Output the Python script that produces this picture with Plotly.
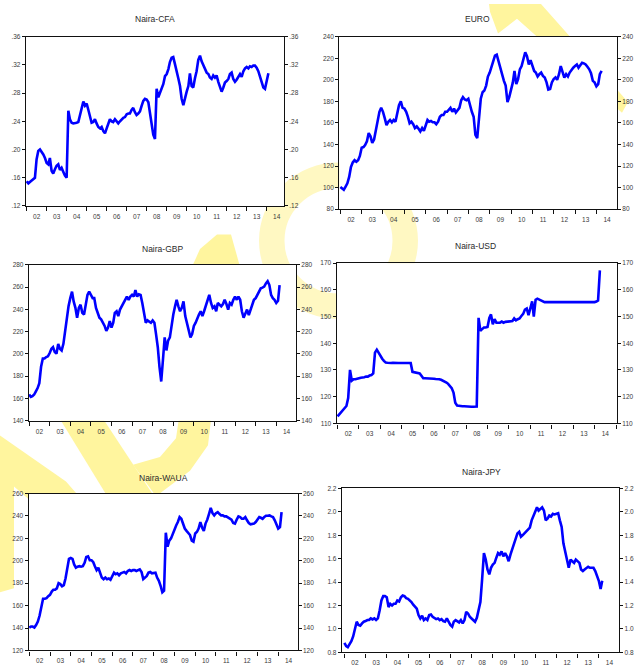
import pandas as pd
import plotly.graph_objects as go

W, H = 636, 666

# Monthly exchange-rate observations, starting January 2002
naira_cfa = [
    0.155, 0.152, 0.154, 0.156, 0.157, 0.160, 0.186, 0.198, 0.200, 0.197,
    0.193, 0.188, 0.181, 0.179, 0.188, 0.170, 0.166, 0.172, 0.177, 0.179,
    0.171, 0.174, 0.167, 0.163, 0.160, 0.255, 0.243, 0.238, 0.237, 0.237,
    0.238, 0.239, 0.249, 0.262, 0.268, 0.262, 0.265, 0.256, 0.246, 0.238,
    0.239, 0.243, 0.237, 0.232, 0.230, 0.232, 0.226, 0.223, 0.230, 0.239,
    0.243, 0.240, 0.239, 0.243, 0.240, 0.237, 0.240, 0.243, 0.245, 0.246,
    0.250, 0.251, 0.251, 0.256, 0.259, 0.253, 0.249, 0.251, 0.254, 0.262,
    0.269, 0.272, 0.271, 0.267, 0.253, 0.242, 0.221, 0.215, 0.286, 0.274,
    0.281, 0.285, 0.293, 0.304, 0.307, 0.314, 0.324, 0.330, 0.331, 0.321,
    0.309, 0.301, 0.290, 0.272, 0.263, 0.274, 0.282, 0.290, 0.308, 0.290,
    0.288, 0.301, 0.311, 0.327, 0.333, 0.325, 0.319, 0.314, 0.309, 0.307,
    0.302, 0.300, 0.305, 0.302, 0.305, 0.296, 0.287, 0.282, 0.288, 0.295,
    0.297, 0.300, 0.307, 0.309, 0.300, 0.296, 0.299, 0.304, 0.307, 0.303,
    0.311, 0.315, 0.317, 0.315, 0.318, 0.317, 0.319, 0.319, 0.316, 0.311,
    0.303, 0.294, 0.288, 0.286, 0.295, 0.308,
]

euro = [
    100.6, 99.0, 98.0, 101.0, 104.0, 110.0, 119.0, 123.4, 125.5, 124.0,
    125.5, 129.4, 137.0, 137.6, 139.4, 143.0, 150.6, 147.6, 141.5, 144.6,
    153.6, 161.2, 170.3, 174.0, 170.3, 164.2, 158.0, 161.0, 162.7, 160.6,
    162.7, 161.0, 168.0, 176.4, 180.0, 174.0, 173.3, 170.3, 165.8, 159.7,
    161.2, 158.8, 155.2, 156.7, 154.6, 152.1, 155.2, 152.7, 157.6, 162.7,
    161.2, 161.8, 160.6, 160.6, 158.8, 161.2, 165.8, 167.3, 167.3, 170.3,
    170.3, 171.8, 174.0, 170.3, 173.3, 169.7, 171.8, 174.0, 181.0, 184.0,
    181.8, 181.0, 182.4, 174.9, 170.3, 165.8, 149.0, 146.0, 161.2, 182.4,
    188.5, 190.0, 194.6, 203.0, 206.7, 212.7, 218.8, 222.4, 223.3, 217.3,
    211.2, 203.6, 199.0, 194.6, 179.4, 184.0, 191.5, 197.6, 208.2, 196.1,
    200.6, 209.7, 212.7, 218.8, 225.5, 221.8, 214.2, 218.2, 212.7, 208.2,
    206.7, 203.0, 205.2, 206.7, 203.6, 202.1, 197.6, 190.9, 191.5, 197.6,
    200.6, 202.1, 200.0, 205.2, 212.7, 206.7, 202.1, 205.2, 203.0, 206.7,
    209.7, 211.2, 212.7, 214.2, 211.2, 214.2, 215.8, 215.2, 214.2, 212.1,
    209.7, 206.1, 199.0, 197.6, 194.0, 196.0, 205.2, 208.2,
]

naira_gbp = [
    163.5, 161.4, 162.0, 163.5, 166.4, 169.3, 173.7, 188.4, 195.8, 195.8,
    197.2, 197.8, 200.8, 204.6, 206.0, 201.6, 200.2, 209.0, 204.6, 203.1,
    209.0, 220.7, 232.5, 242.7, 250.1, 255.9, 247.1, 241.3, 232.5, 241.3,
    244.2, 236.9, 235.4, 242.7, 253.0, 255.9, 253.0, 250.1, 250.1, 241.3,
    236.9, 232.5, 231.0, 228.0, 225.1, 220.7, 223.6, 229.5, 223.6, 228.0,
    236.9, 238.3, 233.9, 239.8, 242.7, 245.7, 248.6, 251.5, 248.6, 251.5,
    253.0, 251.5, 257.4, 251.5, 253.6, 253.0, 245.7, 235.4, 228.0, 230.1,
    228.9, 228.0, 230.1, 228.0, 217.8, 206.0, 188.4, 175.2, 194.3, 214.8,
    203.1, 211.9, 214.8, 226.6, 235.4, 242.7, 248.6, 242.7, 238.3, 241.3,
    247.1, 233.9, 226.6, 222.2, 214.8, 217.8, 225.1, 228.0, 232.5, 235.4,
    238.3, 233.9, 238.3, 242.7, 248.6, 253.0, 245.7, 241.3, 242.7, 238.3,
    245.7, 244.2, 242.7, 244.8, 248.6, 244.8, 239.8, 245.7, 244.2, 248.6,
    251.5, 248.6, 251.5, 248.6, 238.3, 232.5, 235.4, 239.8, 234.8, 239.8,
    242.7, 248.6, 250.1, 253.0, 255.9, 258.9, 259.5, 260.4, 263.3, 265.3,
    261.8, 253.0, 250.1, 248.6, 245.7, 247.7, 261.8,
]

naira_usd = [
    112.6, 113.4, 114.0, 115.0, 115.9, 116.5, 119.5, 130.0, 126.0, 126.5,
    126.5, 126.8, 126.9, 127.1, 127.1, 127.3, 127.5, 127.5, 127.9, 128.1,
    128.7, 136.5, 137.6, 136.3, 135.1, 134.2, 133.4, 132.8, 132.7, 132.6,
    132.6, 132.7, 132.6, 132.5, 132.6, 132.6, 132.6, 132.5, 132.6, 132.6,
    132.6, 132.6, 129.3, 129.1, 129.0, 128.7, 128.7, 127.8, 126.9, 126.9,
    126.9, 126.8, 126.7, 126.7, 126.7, 126.6, 126.6, 126.5, 126.3, 126.0,
    125.7, 125.3, 124.8, 124.1, 123.2, 121.5, 117.7, 116.7, 116.5, 116.4,
    116.4, 116.4, 116.3, 116.3, 116.3, 116.2, 116.2, 116.2, 116.3, 149.5,
    144.7, 145.3, 145.9, 145.9, 146.1, 149.5, 150.8, 147.1, 149.0, 147.7,
    147.7, 147.7, 148.1, 147.7, 148.0, 148.1, 148.1, 148.1, 148.3, 149.3,
    148.6, 149.0, 149.3, 150.2, 151.0, 152.6, 153.0, 150.5, 153.2, 155.7,
    150.0, 156.3, 156.7, 156.3, 155.9, 155.7, 155.4, 155.4, 155.4, 155.4,
    155.4, 155.3, 155.4, 155.4, 155.4, 155.4, 155.4, 155.3, 155.4, 155.4,
    155.4, 155.4, 155.3, 155.4, 155.4, 155.5, 155.4, 155.4, 155.4, 155.4,
    155.4, 155.4, 155.4, 155.4, 155.4, 155.6, 156.0, 167.3,
]

naira_waua = [
    140.4, 141.3, 141.3, 140.4, 142.7, 145.7, 150.9, 157.3, 166.1, 166.1,
    166.7, 168.4, 169.6, 172.5, 174.2, 174.2, 175.4, 180.1, 179.2, 177.2,
    178.3, 184.2, 192.3, 201.7, 202.5, 201.7, 196.7, 193.8, 194.7, 195.2,
    194.7, 195.2, 198.2, 203.4, 204.0, 200.5, 200.5, 198.7, 195.2, 191.7,
    193.8, 189.4, 185.0, 183.6, 185.0, 183.6, 184.2, 183.0, 186.5, 189.4,
    188.0, 188.8, 187.1, 188.8, 189.4, 190.0, 188.8, 190.9, 191.7, 190.9,
    191.7, 191.7, 190.9, 191.7, 192.3, 190.0, 183.6, 185.0, 186.5, 189.4,
    190.0, 188.8, 188.8, 189.4, 185.0, 182.1, 177.7, 171.9, 173.3, 225.0,
    212.7, 218.0, 220.0, 224.4, 227.9, 231.7, 234.6, 239.0, 237.5, 233.2,
    228.8, 226.7, 224.4, 223.0, 218.0, 217.1, 224.4, 225.9, 228.8, 234.6,
    229.7, 226.7, 233.2, 236.7, 241.9, 247.2, 242.5, 240.5, 242.5, 243.4,
    241.9, 240.5, 240.5, 239.6, 239.6, 238.4, 237.5, 236.7, 233.7, 233.2,
    236.7, 239.6, 239.0, 237.5, 237.5, 239.0, 236.1, 233.7, 232.6, 232.6,
    233.2, 234.6, 236.7, 239.0, 238.4, 237.5, 239.0, 240.2, 240.2, 240.5,
    239.6, 239.0, 236.1, 231.7, 228.8, 230.1, 243.4,
]

naira_jpy = [
    0.881, 0.853, 0.844, 0.867, 0.895, 0.936, 1.006, 1.062, 1.034, 1.028,
    1.048, 1.062, 1.067, 1.076, 1.076, 1.090, 1.081, 1.090, 1.076, 1.090,
    1.160, 1.243, 1.280, 1.280, 1.271, 1.187, 1.215, 1.201, 1.215, 1.215,
    1.243, 1.235, 1.271, 1.285, 1.280, 1.263, 1.257, 1.243, 1.229, 1.207,
    1.187, 1.174, 1.118, 1.090, 1.112, 1.076, 1.090, 1.076, 1.118, 1.123,
    1.104, 1.095, 1.084, 1.090, 1.076, 1.084, 1.067, 1.062, 1.090, 1.062,
    1.034, 1.020, 1.062, 1.076, 1.062, 1.056, 1.076, 1.048, 1.076, 1.146,
    1.132, 1.104, 1.090, 1.076, 1.062, 1.095, 1.174, 1.229, 1.425, 1.648,
    1.592, 1.508, 1.466, 1.522, 1.550, 1.564, 1.606, 1.648, 1.634, 1.662,
    1.620, 1.648, 1.620, 1.578, 1.634, 1.676, 1.731, 1.773, 1.815, 1.829,
    1.787, 1.801, 1.815, 1.829, 1.843, 1.865, 1.927, 1.968, 1.996, 2.038,
    2.010, 2.024, 2.038, 2.010, 1.927, 1.941, 1.968, 1.960, 1.982, 1.977,
    1.982, 1.988, 1.927, 1.871, 1.731, 1.648, 1.592, 1.522, 1.592, 1.578,
    1.564, 1.592, 1.578, 1.564, 1.508, 1.494, 1.508, 1.522, 1.531, 1.522,
    1.522, 1.522, 1.494, 1.452, 1.411, 1.341, 1.411,
]

titles = ["Naira-CFA", "EURO", "Naira-GBP", "Naira-USD", "Naira-WAUA", "Naira-JPY"]

cfa_ticks = [0.12, 0.16, 0.20, 0.24, 0.28, 0.32, 0.36]
cfa_labels = [".12", ".16", ".20", ".24", ".28", ".32", ".36"]
euro_ticks = [80, 100, 120, 140, 160, 180, 200, 220, 240]
euro_labels = ["80", "100", "120", "140", "160", "180", "200", "220", "240"]
gbp_ticks = [140, 160, 180, 200, 220, 240, 260, 280]
gbp_labels = ["140", "160", "180", "200", "220", "240", "260", "280"]
usd_ticks = [110, 120, 130, 140, 150, 160, 170]
usd_labels = ["110", "120", "130", "140", "150", "160", "170"]
waua_ticks = [120, 140, 160, 180, 200, 220, 240, 260]
waua_labels = ["120", "140", "160", "180", "200", "220", "240", "260"]
jpy_ticks = [0.8, 1.0, 1.2, 1.4, 1.6, 1.8, 2.0, 2.2]
jpy_labels = ["0.8", "1.0", "1.2", "1.4", "1.6", "1.8", "2.0", "2.2"]

# ---- layout geometry (pixels) ----
def fx(x):
    return x / W


def fy(y):
    return 1 - y / H


panels = [
    dict(values=naira_cfa, ticks=cfa_ticks, labels=cfa_labels, yr=[0.12, 0.36],
         box=(26, 33.3, 284, 206), xr=["2001-12-20", "2014-11-13"], tpos=(155, 15)),
    dict(values=euro, ticks=euro_ticks, labels=euro_labels, yr=[80, 240],
         box=(339.3, 33.3, 617, 209.3), xr=["2001-12-14", "2014-12-20"], tpos=(477, 15)),
    dict(values=naira_gbp, ticks=gbp_ticks, labels=gbp_labels, yr=[140, 280],
         box=(29, 266, 296, 425), xr=["2001-12-30", "2014-12-17"], tpos=(162, 250)),
    dict(values=naira_usd, ticks=usd_ticks, labels=usd_labels, yr=[110, 170],
         box=(336.7, 264.3, 617, 427.7), xr=["2001-12-17", "2015-01-18"], tpos=(476, 247)),
    dict(values=naira_waua, ticks=waua_ticks, labels=waua_labels, yr=[120, 260],
         box=(28.7, 499.3, 297.7, 659.3), xr=["2001-12-22", "2014-12-10"], tpos=(163, 483)),
    dict(values=naira_jpy, ticks=jpy_ticks, labels=jpy_labels, yr=[0.8, 2.2],
         box=(342, 494, 619.3, 661.3), xr=["2001-11-21", "2014-12-20"], tpos=(481, 477)),
]

FONT = "Liberation Sans, Arial, sans-serif"
tick_font = dict(family=FONT, size=6.5, color="#3a3a3a")
LINE_BLUE = "#0000ff"

fig = go.Figure()
layout = dict(
    width=W, height=H,
    margin=dict(l=0, r=0, t=0, b=0),
    paper_bgcolor="white", plot_bgcolor="white",
    showlegend=False,
    annotations=[], shapes=[],
)

for i, p in enumerate(panels, start=1):
    x0, y0, x1, y1 = p["box"]
    dates = pd.date_range("2002-01-01", periods=len(p["values"]), freq="MS")
    xa, ya, yr_name = f"x{i}", f"y{i}", f"y{i + 6}"
    fig.add_trace(go.Scatter(
        x=dates, y=p["values"], mode="lines", xaxis=xa, yaxis=ya,
        line=dict(color=LINE_BLUE, width=2.6), hoverinfo="x+y",
    ))
    # companion trace so the right-hand value axis is laid out
    fig.add_trace(go.Scatter(
        x=[dates[0]], y=[None], mode="lines", xaxis=xa, yaxis=yr_name,
        hoverinfo="skip",
    ))
    sfx = "" if i == 1 else str(i)
    layout["xaxis" + sfx] = dict(
        domain=[fx(x0), fx(x1)], anchor=ya, type="date", range=p["xr"],
        tick0="2002-01-01", dtick="M12", tickformat="%y", ticklabelmode="period",
        ticks="outside", ticklen=4, tickwidth=1, tickcolor="#111",
        showline=True, mirror=True, linecolor="#111", linewidth=1.4,
        showgrid=False, zeroline=False, tickfont=tick_font,
    )
    layout["yaxis" + sfx] = dict(
        domain=[fy(y1), fy(y0)], anchor=xa, range=p["yr"],
        tickmode="array", tickvals=p["ticks"], ticktext=p["labels"],
        ticks="outside", ticklen=3, tickwidth=1, tickcolor="#111",
        showline=True, mirror=True, linecolor="#111", linewidth=1.4,
        showgrid=False, zeroline=False, tickfont=tick_font,
    )
    layout["yaxis" + str(i + 6)] = dict(
        overlaying=ya, side="right", anchor=xa, range=p["yr"],
        tickmode="array", tickvals=p["ticks"], ticktext=p["labels"],
        ticks="outside", ticklen=3, tickwidth=1, tickcolor="#111",
        showline=False, showgrid=False, zeroline=False, tickfont=tick_font,
    )
    tx, ty = p["tpos"]
    layout["annotations"].append(dict(
        text=titles[i - 1], x=fx(tx), y=fy(ty), xref="paper", yref="paper",
        xanchor="center", yanchor="middle", showarrow=False,
        font=dict(family=FONT, size=8.5, color="#2a2a2a"),
    ))

# ---- pale yellow background lettering ----
WM = "#fff59e"
WM_RING = "#fff8c2"


def poly(points):
    d = "M " + " L ".join(f"{fx(x):.5f},{fy(y):.5f}" for x, y in points) + " Z"
    return dict(type="path", path=d, xref="paper", yref="paper",
                fillcolor=WM, line=dict(width=0), layer="below")


cx, cy, r = 338.5, 241.5, 66.75
layout["shapes"].append(dict(
    type="circle", xref="paper", yref="paper",
    x0=fx(cx - r), x1=fx(cx + r), y0=fy(cy + r), y1=fy(cy - r),
    line=dict(color=WM_RING, width=25.5), fillcolor="rgba(0,0,0,0)", layer="below",
))
layout["shapes"] += [
    poly([(489, 0), (541, 0), (628, 100), (622, 111), (517, 15), (498, 30), (490, 8)]),
    poly([(0, 440), (66, 487), (90, 515), (40, 515), (14, 492), (14, 596), (0, 600)]),
    poly([(55, 415), (98, 415), (156, 505), (112, 510)]),
    poly([(180, 415), (212, 415), (208, 450), (190, 476), (156, 502), (133, 470),
          (160, 462), (176, 443)]),
    poly([(217, 235), (231, 235), (240, 268), (192, 268), (200, 250)]),
]

# white plotting areas sit on top of the lettering
for p in panels:
    x0, y0, x1, y1 = p["box"]
    layout["shapes"].append(dict(
        type="rect", xref="paper", yref="paper",
        x0=fx(x0), x1=fx(x1), y0=fy(y1), y1=fy(y0),
        fillcolor="white", line=dict(width=0), layer="below",
    ))

fig.update_layout(**layout)
fig.write_html("out.html")
